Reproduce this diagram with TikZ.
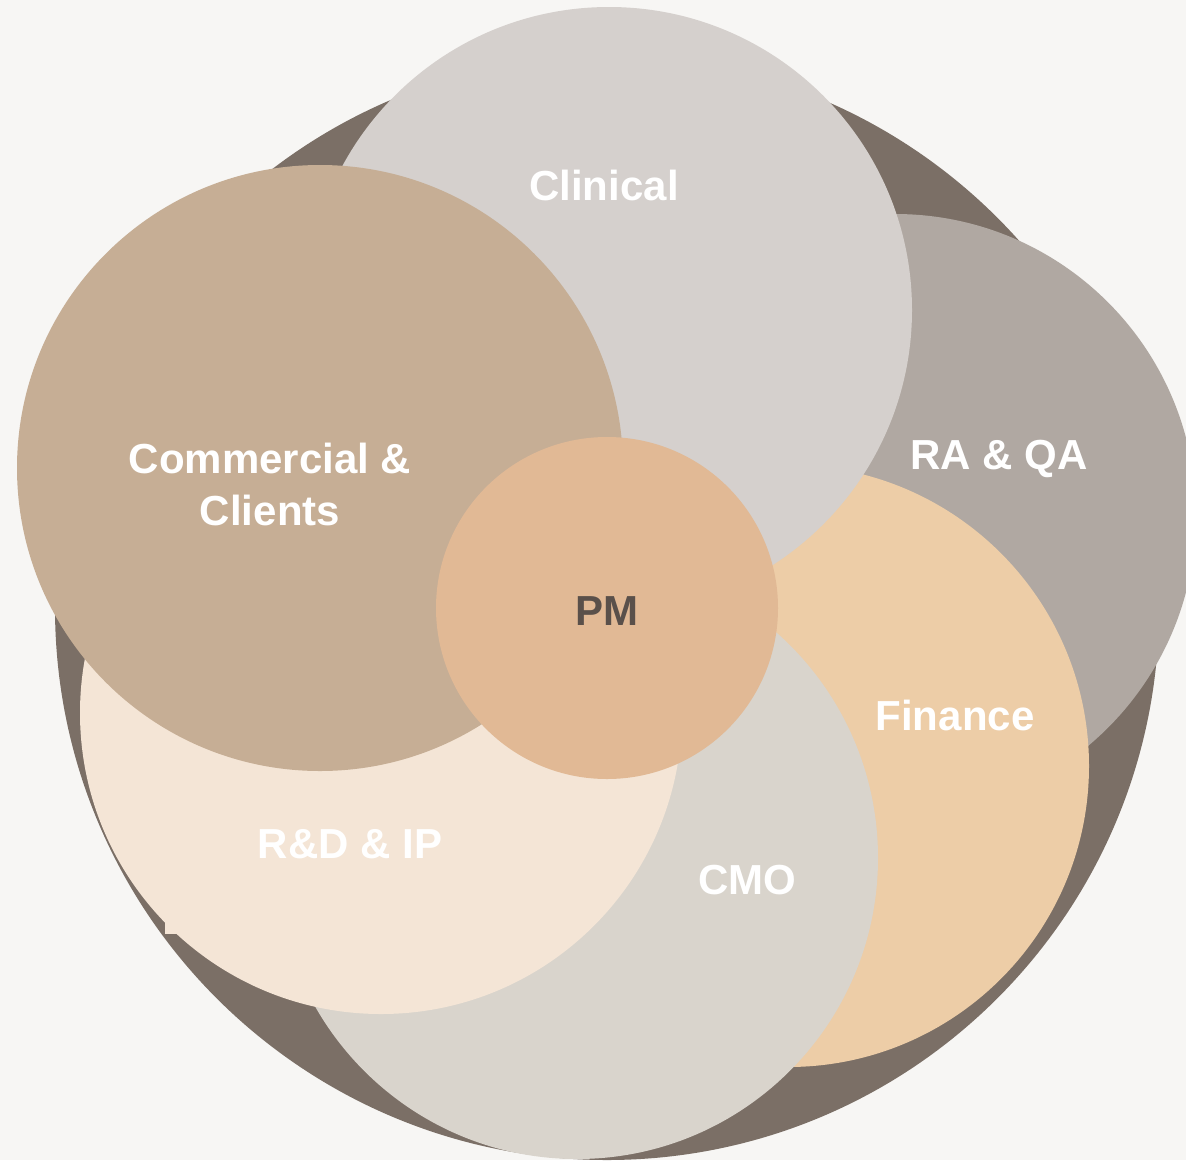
\documentclass[tikz,border=0pt]{standalone}
\usepackage{fontspec}
\setmainfont{Liberation Sans}
\definecolor{bgc}{HTML}{F7F6F4}
\definecolor{darkc}{HTML}{7B6F66}
\definecolor{clinc}{HTML}{D5D0CD}
\definecolor{raqac}{HTML}{B0A8A2}
\definecolor{finc}{HTML}{EDCDA7}
\definecolor{cmoc}{HTML}{D9D4CC}
\definecolor{rdc}{HTML}{F4E5D6}
\definecolor{commc}{HTML}{C6AE95}
\definecolor{pmc}{HTML}{E1B995}
\definecolor{pmtext}{HTML}{5A504A}
\begin{document}
\begin{tikzpicture}[x=1pt,y=-1pt,
  lbl/.style={text=white,font=\fontsize{42}{52}\selectfont\bfseries,inner sep=0pt,align=center},
  disc/.style={circle,minimum size=602pt,inner sep=0pt,draw=none}]
\fill[bgc] (0,0) rectangle (1186,1160);
\useasboundingbox (0,0) rectangle (1186,1160);
% outer dark disc
\node[circle,minimum size=1104pt,inner sep=0pt,fill=darkc] (outer) at (607,608) {};
% petals, back to front
\node[disc,fill=raqac] (raqa) at (895,515) {};
\node[disc,fill=finc] (fin) at (788,766) {};
\node[disc,fill=clinc,minimum size=606pt] (clin) at (609,310) {};
\node[disc,fill=cmoc] (cmo) at (577,858) {};
\node[disc,fill=rdc] (rd) at (381,713) {};
\fill[rdc] (165,915) rectangle (177,934);
\node[disc,fill=commc,minimum size=606pt] (comm) at (320,468) {};
\node[circle,minimum size=342pt,inner sep=0pt,fill=pmc] (pm) at (607,608) {};
% labels
\node[lbl,anchor=base] (tclin) at (604,200) {Clinical};
\node[lbl] (tcomm) at (270,484) {Commercial \&\\Clients};
\node[lbl,anchor=base] (traqa) at (999,469) {RA \& QA};
\node[lbl,anchor=base,text=pmtext] (tpm) at (607,625) {PM};
\node[lbl,anchor=base] (tfin) at (955,730) {Finance};
\node[lbl,anchor=base] (tcmo) at (747,894) {CMO};
\node[lbl,anchor=base] (trd) at (350,858) {R\&D \& IP};
\end{tikzpicture}
\end{document}
